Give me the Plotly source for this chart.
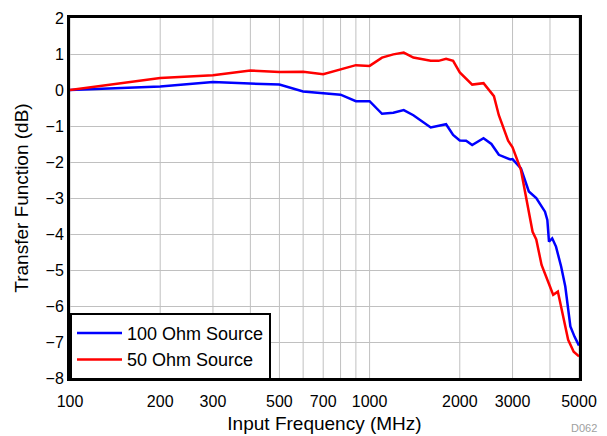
import plotly.graph_objects as go

# 100 Ohm source (blue)
freq_100 = [100, 200, 300, 400, 500, 600, 700, 800, 900, 1000, 1100, 1200, 1300, 1400,
            1600, 1800, 1900, 2000, 2100, 2200, 2400, 2550, 2700, 2950, 3000, 3200,
            3400, 3600, 3850, 3920, 3970, 4070, 4190, 4360, 4500, 4680, 4830, 5000]
tf_100 = [0, 0.10, 0.22, 0.19, 0.15, -0.04, -0.09, -0.13, -0.31, -0.31, -0.66, -0.63, -0.56, -0.70,
          -1.04, -0.95, -1.25, -1.40, -1.41, -1.53, -1.34, -1.50, -1.80, -1.93, -1.92, -2.18,
          -2.82, -3.00, -3.38, -3.61, -4.21, -4.12, -4.35, -4.91, -5.46, -6.57, -6.85, -7.10]

# 50 Ohm source (red)
freq_50 = [100, 200, 300, 400, 500, 600, 700, 800, 900, 1000, 1100, 1200, 1300, 1400,
           1600, 1700, 1800, 1900, 2000, 2200, 2400, 2600, 2700, 2900, 3000, 3200,
           3350, 3500, 3600, 3750, 4000, 4100, 4250, 4450, 4600, 4800, 5000]
tf_50 = [0, 0.33, 0.41, 0.54, 0.50, 0.51, 0.44, 0.57, 0.69, 0.67, 0.90, 0.99, 1.04, 0.90,
         0.81, 0.81, 0.87, 0.81, 0.49, 0.15, 0.19, -0.17, -0.70, -1.41, -1.59, -2.22,
         -3.15, -3.94, -4.15, -4.86, -5.46, -5.69, -5.60, -6.39, -6.94, -7.27, -7.40]

grid_x = [100, 200, 300, 400, 500, 600, 700, 800, 900, 1000, 2000, 3000, 4000, 5000]
tick_x = [100, 200, 300, 500, 700, 1000, 2000, 3000, 5000]
tick_y = list(range(-8, 3))

font = "Liberation Sans, Arial, sans-serif"

fig = go.Figure()
fig.add_trace(go.Scatter(x=freq_100, y=tf_100, mode='lines', name='100 Ohm Source',
                         line=dict(color='#0000ff', width=2.5)))
fig.add_trace(go.Scatter(x=freq_50, y=tf_50, mode='lines', name='50 Ohm Source',
                         line=dict(color='#ff0000', width=2.5)))

# vertical grid lines
for g in grid_x:
    fig.add_shape(type='line', xref='x', yref='paper', x0=g, x1=g, y0=0, y1=1,
                  line=dict(color='#c0c0c0', width=1), layer='below')

# page body has an 8px margin, so the figure is a bit smaller than the window
fig.update_layout(
    width=599, height=428,
    margin=dict(l=62, r=28, t=10, b=58),
    plot_bgcolor='white', paper_bgcolor='white',
    font=dict(family=font, size=16, color='black'),
    showlegend=True,
    legend=dict(x=0, y=-0.005, xanchor='left', yanchor='bottom',
                bordercolor='black', borderwidth=2, bgcolor='white',
                font=dict(size=18), itemwidth=45, tracegroupgap=0),
    xaxis=dict(type='log', range=[2, 3.69897], tickvals=tick_x,
               ticktext=[str(t) for t in tick_x], showgrid=False, zeroline=False,
               showline=True, linecolor='black', linewidth=3, mirror=True,
               ticks='', automargin=False, ticklabelstandoff=7,
               title=dict(text='Input Frequency (MHz)', standoff=8)),
    yaxis=dict(range=[-8, 2], tickvals=tick_y, showgrid=True, gridcolor='#c0c0c0',
               gridwidth=1, zeroline=False, showline=True, linecolor='black',
               linewidth=3, mirror=True, ticks='', automargin=False,
               title=dict(text='Transfer Function (dB)', standoff=12)),
)

fig.add_annotation(text='D062', xref='paper', yref='paper', x=1.04, y=-0.139,
                   xanchor='right', yanchor='middle', showarrow=False,
                   font=dict(size=11, color='#a0a0a0'))

fig.write_html("out.html")
